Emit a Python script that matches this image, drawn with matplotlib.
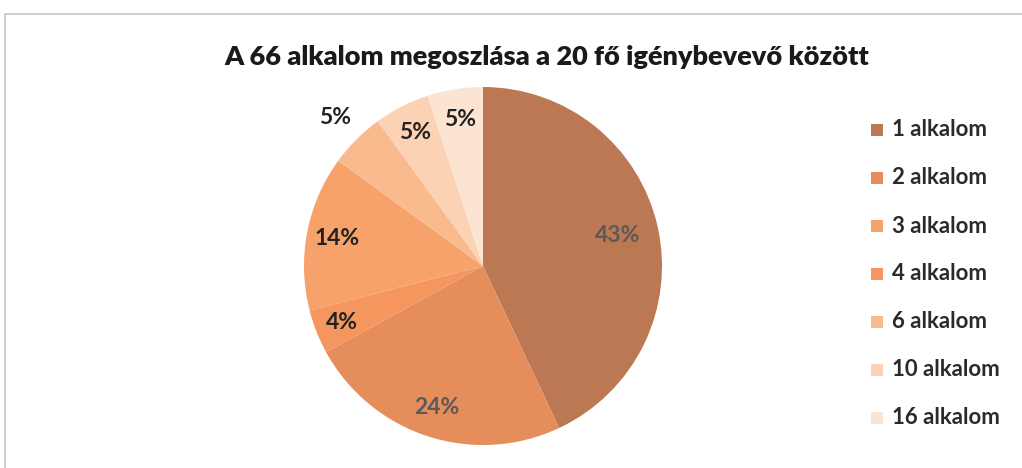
import numpy as np
import matplotlib.pyplot as plt
from matplotlib.patches import Rectangle

# data
categories = ["1 alkalom", "2 alkalom", "3 alkalom", "4 alkalom",
              "6 alkalom", "10 alkalom", "16 alkalom"]
# slices clockwise from 12 o'clock: 1, 2, 4, 3, 6, 10, 16 alkalom
shares = [43, 24, 4, 14, 5, 5, 5]
share_labels = ["43%", "24%", "4%", "14%", "5%", "5%", "5%"]
colors = ["#BC7852", "#E68D5C", "#F4965E", "#F8A26B", "#F9BB8E", "#FBD2B4", "#FCE4D2"]
label_colors = ["#5a5a5a", "#5a5a5a", "#222222", "#222222", "#222222", "#222222", "#222222"]
label_radius = [0.77, 0.83, 0.85, 0.83, 1.17, 0.84, 0.83]

plt.rcParams['font.family'] = ['Lato', 'DejaVu Sans']

fig = plt.figure(figsize=(10.22, 4.68), dpi=100)
W, H = 1022, 468

# chart frame
fig.patches.append(Rectangle((5 / W, -0.05), 1.1, 1 - 14 / H + 0.05, transform=fig.transFigure,
                             fill=False, edgecolor="#C8C8C8", linewidth=1.2))

cx, cy, r = 483, 266, 179
ax = fig.add_axes([(cx - r) / W, (H - cy - r) / H, 2 * r / W, 2 * r / H])
wedges, _ = ax.pie(shares, colors=colors, startangle=90, counterclock=False,
                   radius=1, wedgeprops=dict(linewidth=0))
ax.set_xlim(-1, 1)
ax.set_ylim(-1, 1)
ax.set_aspect('equal')
ax.axis('off')

# data labels
total = float(sum(shares))
start = 90.0
for i, v in enumerate(shares):
    span = 360.0 * v / total
    mid = np.deg2rad(start - span / 2)
    start -= span
    rr = label_radius[i]
    ax.text(rr * np.cos(mid), rr * np.sin(mid), share_labels[i], ha='center', va='center',
            fontsize=16.5, fontweight='bold', color=label_colors[i], clip_on=False)

fig.text(547 / W, 1 - 57 / H, "A 66 alkalom megoszlása a 20 fő igénybevevő között",
         ha='center', va='center', fontsize=19.5, fontweight='heavy', color='#1a1a1a')

# legend (wedge colours in category order)
legend_colors = [colors[0], colors[1], colors[3], colors[2], colors[4], colors[5], colors[6]]
for i, cat in enumerate(categories):
    y = 1 - (130 + i * 48) / H
    fig.patches.append(Rectangle((871 / W, y - 6 / H), 12 / W, 12 / H, transform=fig.transFigure,
                                 facecolor=legend_colors[i], edgecolor='none'))
    fig.text(892 / W, y, cat, ha='left', va='center', fontsize=16, fontweight='bold',
             color='#2a2a2a')

fig.savefig("out.png", dpi=100)
